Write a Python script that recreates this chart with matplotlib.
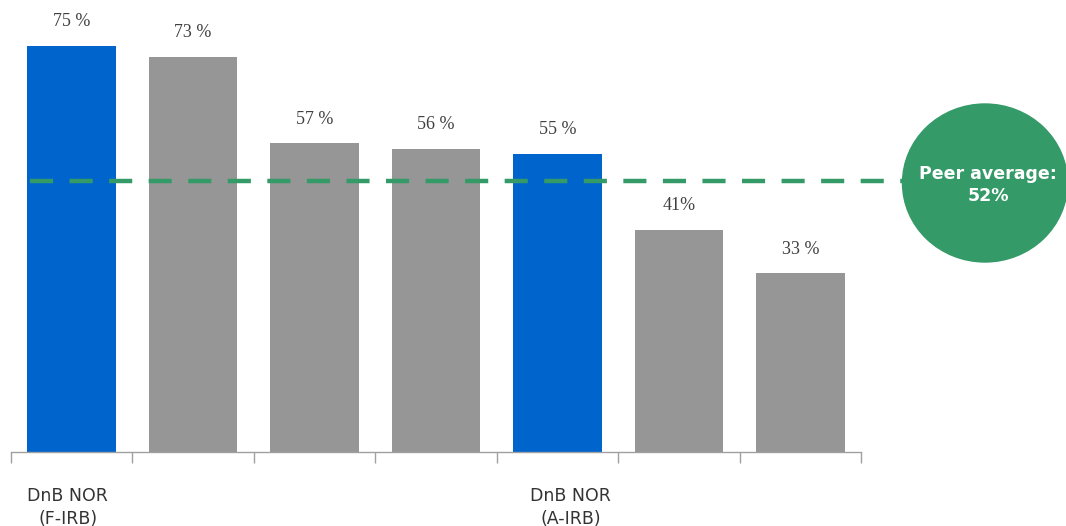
import matplotlib
matplotlib.use("Agg")
import matplotlib.pyplot as plt
from matplotlib.patches import Ellipse
from matplotlib.transforms import ScaledTranslation

categories = ["DnB NOR\n(F-IRB)", "", "", "", "DnB NOR\n(A-IRB)", "", ""]
values = [75, 73, 57, 56, 55, 41, 33]
value_labels = ["75 %", "73 %", "57 %", "56 %", "55 %", "41%", "33 %"]
highlight = [True, False, False, False, True, False, False]
peer_line = 50
peer_text = "Peer average:\n52%"

BLUE = "#0064CD"
GREY = "#969696"
GREEN = "#349A68"

W, H = 1066, 526
fig = plt.figure(figsize=(W / 100, H / 100), dpi=100)
ax = fig.add_axes([11 / W, 74 / H, 850 / W, 452 / H])

colors = [BLUE if h else GREY for h in highlight]
x = list(range(len(values)))
bars = ax.bar(x, values, width=0.73, color=colors, zorder=2)

for b, lab in zip(bars, value_labels):
    ax.annotate(lab, (b.get_x() + b.get_width() / 2, b.get_height()),
                xytext=(0, 17.5), textcoords="offset points",
                ha="center", va="center", fontsize=13,
                family="Liberation Serif", color="#404040")

ax.set_xlim(-0.5, len(values) - 0.5)
ax.set_ylim(0, 83.5)

# dashed peer average line (extends into the bubble)
ax.plot([-0.345, 6.87], [peer_line, peer_line], color=GREEN, lw=3.2,
        dashes=(5.2, 3.7), clip_on=False, zorder=3)

# spines / ticks
for s in ["top", "right", "left"]:
    ax.spines[s].set_visible(False)
ax.spines["bottom"].set_color("#a0a0a0")
ax.spines["bottom"].set_linewidth(1.0)
ax.set_yticks([])
ax.set_xticks(x)
ax.set_xticklabels(categories, fontsize=12.5, family="DejaVu Sans",
                   color="#333333", linespacing=1.3)
ax.tick_params(axis="x", length=0, pad=25.5)
ax.set_xticks([i - 0.5 for i in range(len(values) + 1)], minor=True)
ax.tick_params(axis="x", which="minor", length=8, color="#a0a0a0", width=1.0)

# small horizontal nudges of the two category labels, as in the reference
shifts = {0: -4, 4: 13}
for i, lbl in enumerate(ax.get_xticklabels()):
    if i in shifts:
        lbl.set_transform(lbl.get_transform() +
                          ScaledTranslation(shifts[i] / 100, 0, fig.dpi_scale_trans))

# peer average bubble
ell = Ellipse((985 / W, 1 - 183 / H), 165 / W, 158 / H,
              transform=fig.transFigure, color=GREEN, zorder=5)
fig.patches.append(ell)
fig.text(988 / W, 1 - 185 / H, peer_text, ha="center", va="center",
         color="white", fontsize=12.5, fontweight="bold",
         family="DejaVu Sans", linespacing=1.3, zorder=6)

fig.savefig("out.png", dpi=100)
